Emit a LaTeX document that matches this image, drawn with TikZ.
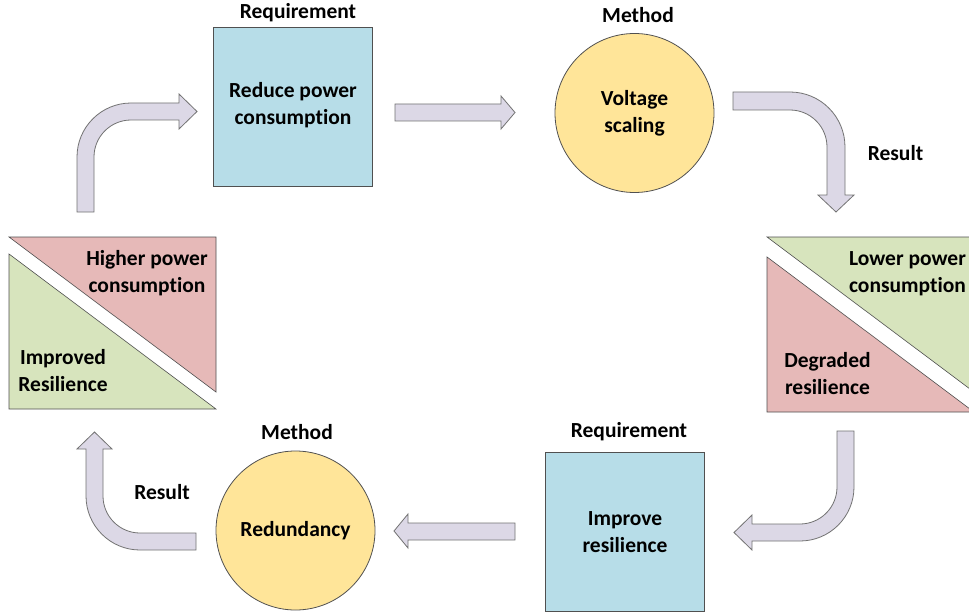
\documentclass[tikz,border=0pt]{standalone}
\usepackage{fontspec}
\setmainfont{Carlito}[Ligatures=NoCommon]
\definecolor{boxblue}{RGB}{183,221,232}
\definecolor{circyellow}{RGB}{255,229,153}
\definecolor{arrowfill}{RGB}{220,216,230}
\definecolor{pinkfill}{RGB}{230,185,184}
\definecolor{greenfill}{RGB}{215,228,189}
\definecolor{edgegray}{RGB}{80,80,80}
\tikzset{
  lbl/.style={font=\fontsize{21.5}{27}\selectfont\bfseries, inner sep=0pt, align=center},
  reqbox/.style={draw=edgegray, fill=boxblue, line width=0.8pt},
  methcirc/.style={draw=edgegray, fill=circyellow, line width=0.8pt},
  blockarrow/.style={draw=edgegray!80, fill=arrowfill, line width=0.8pt, line join=miter},
  tri/.style={draw=edgegray, line width=0.6pt},
}
\begin{document}
\begin{tikzpicture}[x=1pt,y=-1pt]
\clip (0,0) rectangle (969,615);
\fill[white] (0,0) rectangle (969,615);

% requirement boxes
\draw[reqbox] (213,27) rectangle (372,186);
\draw[reqbox] (545,452) rectangle (704,611);
% method circles
\draw[methcirc] (634.5,113) circle[radius=79.5];
\draw[methcirc] (295.5,530.5) circle[radius=79.5];

% result triangles (left)
\draw[tri, fill=pinkfill] (9,237) -- (216,237) -- (216,392) -- cycle;
\draw[tri, fill=greenfill] (9,254) -- (9,409) -- (216,409) -- cycle;
% result triangles (right)
\draw[tri, fill=greenfill] (767,237) -- (974,237) -- (974,392) -- cycle;
\draw[tri, fill=pinkfill] (767,257) -- (767,412) -- (974,412) -- cycle;

% straight block arrows
\draw[blockarrow] (395,104) -- (501,104) -- (501,96) -- (515,112.5) -- (501,129) -- (501,121) -- (395,121) -- cycle;
\draw[blockarrow] (515,523) -- (408,523) -- (408,514) -- (394,531) -- (408,548) -- (408,540) -- (515,540) -- cycle;

% bent arrow: up then right (top-left)
\draw[blockarrow] (77,212) -- (77,157) .. controls (77,127.2) and (101.2,103) .. (131,103)
  -- (179,103) -- (179,94) -- (197,111.5) -- (179,129) -- (179,120) -- (131,120)
  .. controls (110.6,120) and (94,136.6) .. (94,157) -- (94,212) -- cycle;
% bent arrow: right then down (top-right)
\draw[blockarrow] (733,92) -- (790,92) .. controls (820.4,92) and (845,116.6) .. (845,147)
  -- (845,195) -- (854,195) -- (836,212) -- (818,195) -- (827,195) -- (827,147)
  .. controls (827,126.6) and (810.4,110) .. (790,110) -- (733,110) -- cycle;
% bent arrow: down then left (bottom-right)
\draw[blockarrow] (837,431) -- (854,431) -- (854,487) .. controls (854,516.8) and (829.8,541) .. (800,541)
  -- (752,541) -- (752,550) -- (734,532.5) -- (752,515) -- (752,524) -- (800,524)
  .. controls (820.4,524) and (837,507.4) .. (837,487) -- cycle;
% bent arrow: left then up (bottom-left)
\draw[blockarrow] (196,533) -- (140,533) .. controls (119.6,533) and (103,516.4) .. (103,496)
  -- (103,449) -- (112,449) -- (94.5,432) -- (77,449) -- (86,449) -- (86,496)
  .. controls (86,525.8) and (110.2,550) .. (140,550) -- (196,550) -- cycle;

% texts
\node[lbl] (req1) at (298,13) {Requirement};
\node[lbl] (reduce) at (293,105.5) {Reduce power\\consumption};
\node[lbl] (meth1) at (638,15) {Method};
\node[lbl] (volt) at (634.5,113.5) {Voltage\\scaling};
\node[lbl] (res1) at (895.5,153) {Result};
\node[lbl] (lower) at (907.5,273.5) {Lower power\\consumption};
\node[lbl] (degr) at (827.5,374) {Degraded\\resilience};
\node[lbl] (req2) at (629,432) {Requirement};
\node[lbl] (improve) at (625,532) {Improve\\resilience};
\node[lbl] (meth2) at (297,432) {Method};
\node[lbl] (redund) at (295.5,531) {Redundancy};
\node[lbl] (res2) at (162,492) {Result};
\node[lbl] (higher) at (147,273) {Higher power\\consumption};
\node[lbl] (improved) at (63,371) {Improved\\Resilience};
\end{tikzpicture}
\end{document}
